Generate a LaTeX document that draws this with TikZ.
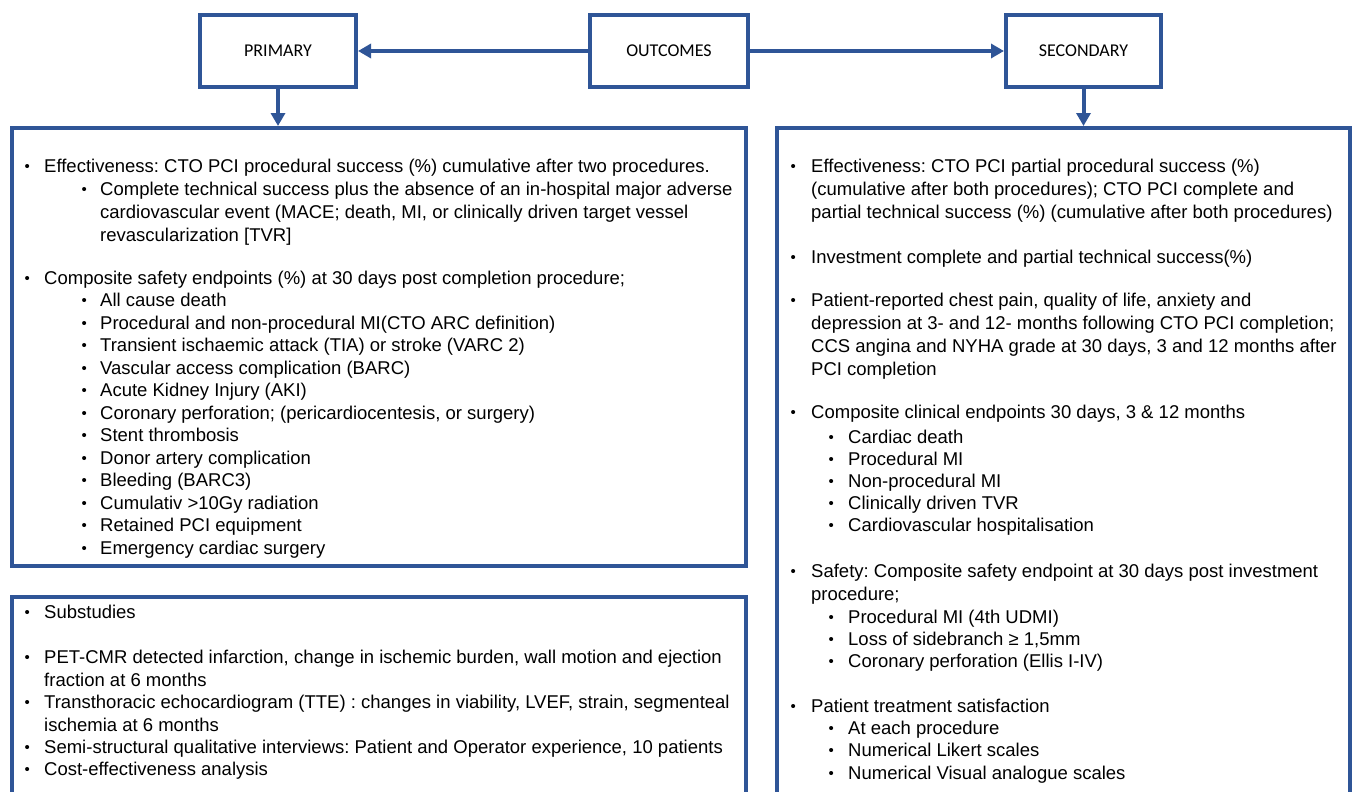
\documentclass[tikz,border=0pt]{standalone}
\usepackage{fontspec}
\setmainfont{Liberation Sans}
\newfontfamily\labfont{Carlito}
\usetikzlibrary{arrows.meta}
\definecolor{frameblue}{RGB}{47,85,151}
\tikzset{
  hdbox/.style={draw=frameblue, line width=4pt, inner sep=0pt, minimum width=#1, minimum height=72pt, font=\labfont\fontsize{18}{21}\selectfont},
  bigbox/.style={draw=frameblue, line width=4pt, inner sep=0pt},
  conn/.style={draw=frameblue, line width=4pt, -{Triangle[length=13pt,width=14pt]}},
  txt/.style={anchor=base west, inner sep=0pt, font=\fontsize{18.5}{22.5}\selectfont},
  bul/.style={anchor=base west, inner sep=0pt, font=\fontsize{15}{18}\selectfont},
}
\newcommand\itm[5]{\node[bul] (#1b) at (#2-2.5,#4+5) {\textbullet}; \node[txt] (#1) at (#3,#4+6) {#5};}
\newcommand\cnt[4]{\node[txt] (#1) at (#2,#3+6) {#4};}
\begin{document}
\frenchspacing
\begin{tikzpicture}[x=1pt,y=-1pt]
\useasboundingbox (0,0) rectangle (1357,792);
\clip (0,0) rectangle (1357,792);
% header boxes
\node[hdbox=156pt] (prim) at (278,51) {PRIMARY};
\node[hdbox=158pt] (outc) at (669,51) {OUTCOMES};
\node[hdbox=155pt] (secd) at (1083.5,51) {SECONDARY};
% big boxes
\node[bigbox, minimum width=734pt, minimum height=438pt] (primbig) at (379,347) {};
\node[bigbox, minimum width=573pt, minimum height=692pt] (secbig) at (1063.5,474) {};
\node[bigbox, minimum width=734pt, minimum height=223pt] (subbig) at (379,708.5) {};
% connectors
\draw[conn] (outc.west) -- (prim.east);
\draw[conn] (outc.east) -- (secd.west);
\draw[conn] (prim.south) -- (prim.south |- primbig.north);
\draw[conn] (secd.south) -- (secd.south |- secbig.north);
% primary text
\itm{p1}{27}{44}{166}{Effectiveness: CTO PCI procedural success (\%) cumulative after two procedures.}
\itm{p2}{84}{100}{189}{Complete technical success plus the absence of an in-hospital major adverse}
\cnt{p3}{100}{212}{cardiovascular event (MACE; death, MI, or clinically driven target vessel}
\cnt{p4}{100}{235}{revascularization [TVR]}
\itm{p5}{27}{44}{278}{Composite safety endpoints (\%) at 30 days post completion procedure;}
\itm{p6}{84}{100}{300.5}{All cause death}
\itm{p7}{84}{100}{323}{Procedural and non-procedural MI(CTO ARC definition)}
\itm{p8}{84}{100}{345.5}{Transient ischaemic attack (TIA) or stroke (VARC 2)}
\itm{p9}{84}{100}{368}{Vascular access complication (BARC)}
\itm{p10}{84}{100}{390.5}{Acute Kidney Injury (AKI)}
\itm{p11}{84}{100}{413}{Coronary perforation; (pericardiocentesis, or surgery)}
\itm{p12}{84}{100}{435.5}{Stent thrombosis}
\itm{p13}{84}{100}{458}{Donor artery complication}
\itm{p14}{84}{100}{480.5}{Bleeding (BARC3)}
\itm{p15}{84}{100}{503}{Cumulativ >10Gy radiation}
\itm{p16}{84}{100}{525.5}{Retained PCI equipment}
\itm{p17}{84}{100}{548}{Emergency cardiac surgery}
% substudies text
\itm{u1}{27}{44}{612}{Substudies}
\itm{u2}{27}{44}{657}{PET-CMR detected infarction, change in ischemic burden, wall motion and ejection}
\cnt{u3}{44}{680}{fraction at 6 months}
\itm{u4}{27}{44}{702}{Transthoracic echocardiogram (TTE) : changes in viability, LVEF, strain, segmenteal}
\cnt{u5}{44}{725}{ischemia at 6 months}
\itm{u6}{27}{44}{747}{Semi-structural qualitative interviews: Patient and Operator experience, 10 patients}
\itm{u7}{27}{44}{769}{Cost-effectiveness analysis}
% secondary text
\itm{s1}{793}{811}{166}{Effectiveness: CTO PCI partial procedural success (\%)}
\cnt{s2}{811}{189}{(cumulative after both procedures); CTO PCI complete and}
\cnt{s3}{811}{212}{partial technical success (\%) (cumulative after both procedures)}
\itm{s4}{793}{811}{257}{Investment complete and partial technical success(\%)}
\itm{s5}{793}{811}{300}{Patient-reported chest pain, quality of life, anxiety and}
\cnt{s6}{811}{323}{depression at 3- and 12- months following CTO PCI completion;}
\cnt{s7}{811}{346}{CCS angina and NYHA grade at 30 days, 3 and 12 months after}
\cnt{s8}{811}{369}{PCI completion}
\itm{s9}{793}{811}{412}{Composite clinical endpoints 30 days, 3 \& 12 months}
\itm{s10}{831}{848}{437}{Cardiac death}
\itm{s11}{831}{848}{459}{Procedural MI}
\itm{s12}{831}{848}{481}{Non-procedural MI}
\itm{s13}{831}{848}{503}{Clinically driven TVR}
\itm{s14}{831}{848}{525}{Cardiovascular hospitalisation}
\itm{s15}{793}{811}{571}{Safety: Composite safety endpoint at 30 days post investment}
\cnt{s16}{811}{594}{procedure;}
\itm{s17}{831}{848}{617}{Procedural MI (4th UDMI)}
\itm{s18}{831}{848}{639}{Loss of sidebranch ≥ 1,5mm}
\itm{s19}{831}{848}{661}{Coronary perforation (Ellis I-IV)}
\itm{s20}{793}{811}{706}{Patient treatment satisfaction}
\itm{s21}{831}{848}{728}{At each procedure}
\itm{s22}{831}{848}{750}{Numerical Likert scales}
\itm{s23}{831}{848}{773}{Numerical Visual analogue scales}
\end{tikzpicture}
\end{document}
